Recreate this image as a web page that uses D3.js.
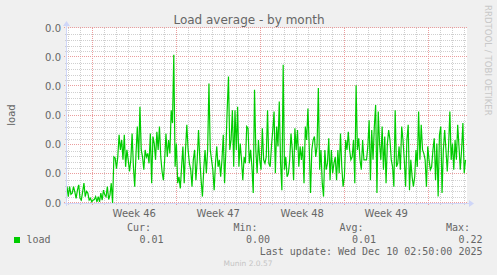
<!DOCTYPE html>
<html>
<head>
<meta charset="utf-8">
<script src="https://cdn.jsdelivr.net/npm/d3@7"></script>
<style>
  body { margin: 0; background: #f0f0f0; }
  text { font-family: "DejaVu Sans", sans-serif; fill: #666; }
  .mono { font-family: "DejaVu Sans Mono", monospace; }
</style>
</head>
<body>
<svg width="497" height="275"></svg>
<script>
// chart data
const title = "Load average - by month";
const yTitle = "load";
const weekLabels = ["Week 46", "Week 47", "Week 48", "Week 49"];
const legendHeads = ["Cur:", "Min:", "Avg:", "Max:"];
const legendValues = ["0.01", "0.00", "0.01", "0.22"];
const seriesName = "load";
const lastUpdate = "Last update: Wed Dec 10 02:50:00 2025";
const version = "Munin 2.0.57";
const watermark = "RRDTOOL / TOBI OETIKER";

// window of the graph and first / last sample times (UTC)
const graphStart = new Date(Date.UTC(2025, 10, 7, 21, 30));
const graphEnd = new Date(Date.UTC(2025, 11, 11, 5, 30));
const firstSample = new Date(Date.UTC(2025, 10, 7, 21, 30));
const lastSample = new Date(Date.UTC(2025, 11, 11, 2, 30));

// load average samples
const load = [
  0.0028,0.0011,0.0028,0.0015,0.0017,0.0028,0.0019,0.0008,0.0022,0.0031,0.0008,0.0005,
  0.0019,0.0034,0.0011,0.0020,0.0017,0.0005,0.0008,0.0002,0.0005,0.0006,0.0011,0.0002,
  0.0011,0.0002,0.0017,0.0005,0.0022,0.0014,0.0011,0.0028,0.0006,0.0014,0.0034,0.0000,
  0.0079,0.0077,0.0059,0.0079,0.0117,0.0091,0.0108,0.0074,0.0117,0.0062,0.0091,0.0074,
  0.0054,0.0074,0.0119,0.0062,0.0028,0.0085,0.0131,0.0074,0.0165,0.0091,0.0079,0.0057,
  0.0091,0.0079,0.0085,0.0068,0.0119,0.0034,0.0114,0.0102,0.0074,0.0122,0.0091,0.0131,
  0.0079,0.0054,0.0039,0.0074,
  0.0119,0.0079,0.0108,0.0085,0.0159,0.0137,0.0254,0.0062,0.0102,0.0034,0.0045,0.0025,
  0.0062,0.0097,0.0034,0.0091,0.0134,0.0091,0.0068,0.0057,0.0028,0.0074,0.0091,0.0039,
  0.0074,0.0125,0.0074,0.0039,0.0011,0.0057,0.0091,0.0051,0.0091,0.0205,0.0091,0.0074,
  0.0057,0.0022,0.0068,0.0097,0.0062,0.0074,0.0045,0.0074,0.0117,0.0034,0.0091,0.0159,
  0.0217,0.0091,0.0108,0.0159,0.0062,0.0159,0.0091,0.0165,0.0062,0.0102,0.0074,0.0039,
  0.0079,0.0068,0.0131,0.0128,0.0068,0.0091,0.0062,0.0017,0.0194,0.0091,0.0051,0.0108,
  0.0074,0.0057,0.0128,0.0074,0.0068,
  0.0079,0.0159,0.0068,0.0062,0.0097,0.0125,0.0157,0.0051,0.0131,0.0097,0.0174,0.0068,
  0.0022,0.0237,0.0057,0.0079,0.0045,0.0051,0.0074,0.0119,0.0091,0.0039,0.0128,0.0091,
  0.0125,0.0062,0.0097,0.0074,0.0097,0.0034,0.0131,0.0108,0.0162,0.0097,0.0017,0.0091,
  0.0108,0.0114,0.0079,0.0097,0.0197,0.0057,0.0091,0.0034,0.0011,0.0091,0.0057,0.0068,
  0.0111,0.0039,0.0091,0.0051,0.0068,0.0079,0.0039,0.0091,0.0051,0.0119,0.0062,0.0028,
  0.0045,0.0108,0.0091,0.0122,0.0091,0.0074,0.0079,0.0108,0.0034,0.0202,0.0091,0.0111,
  0.0074,0.0057,0.0108,0.0074,
  0.0074,0.0074,0.0097,0.0142,0.0039,0.0125,0.0074,0.0131,0.0168,0.0017,0.0157,0.0102,
  0.0074,0.0131,0.0057,0.0114,0.0034,0.0102,0.0125,0.0108,0.0074,0.0062,0.0028,0.0159,
  0.0062,0.0068,0.0097,0.0057,0.0131,0.0108,0.0074,0.0028,0.0108,0.0134,0.0022,0.0074,
  0.0045,0.0028,0.0045,0.0091,0.0062,0.0157,0.0074,0.0134,0.0091,0.0085,0.0074,0.0028,
  0.0097,0.0074,0.0057,0.0062,0.0091,0.0111,0.0039,0.0102,0.0011,0.0117,0.0131,0.0017,
  0.0091,0.0125,0.0091,0.0054,0.0097,0.0157,0.0074,0.0102,0.0057,0.0108,0.0074,0.0134,
  0.0097,0.0057,0.0091,0.0137,0.0051,0.0074
];

const svg = d3.select("svg");
const pLeft = 67, pRight = 467, pTop = 28, pBottom = 203;

const step = (lastSample - firstSample) / (load.length - 1);
const data = load.map((v, i) => ({ t: new Date(+firstSample + i * step), v: v }));

const x = d3.scaleUtc().domain([graphStart, graphEnd]).range([pLeft, pRight]);
const y = d3.scaleLinear().domain([0, 0.03]).range([pBottom, pTop]);

const px = v => Math.round(v) + 0.5;

// plot canvas
svg.append("rect")
  .attr("x", pLeft).attr("y", pTop)
  .attr("width", pRight - pLeft).attr("height", pBottom - pTop)
  .attr("fill", "#fff");

const grid = svg.append("g").attr("shape-rendering", "crispEdges");

// minor grid
const days = d3.utcDay.range(graphStart, graphEnd);
const mondays = d3.utcMonday.range(graphStart, graphEnd);
grid.selectAll(".vmin")
  .data(days.filter(d => d.getUTCDay() !== 1))
  .enter().append("line")
  .attr("x1", d => px(x(d))).attr("x2", d => px(x(d)))
  .attr("y1", pTop).attr("y2", pBottom + 2)
  .attr("stroke", "#cfcfcf").attr("stroke-dasharray", "1,1");

grid.selectAll(".hmin")
  .data(y.ticks(30).filter((d, i) => i % 5 !== 0))
  .enter().append("line")
  .attr("x1", pLeft - 2).attr("x2", pRight)
  .attr("y1", d => px(y(d))).attr("y2", d => px(y(d)))
  .attr("stroke", "#cfcfcf").attr("stroke-dasharray", "1,1");

// major grid
grid.selectAll(".vmaj")
  .data(mondays)
  .enter().append("line")
  .attr("x1", d => px(x(d))).attr("x2", d => px(x(d)))
  .attr("y1", pTop).attr("y2", pBottom + 3)
  .attr("stroke", "#eb9d9d").attr("stroke-dasharray", "1,1");

grid.selectAll(".hmaj")
  .data(y.ticks(6))
  .enter().append("line")
  .attr("x1", pLeft - 3).attr("x2", pRight)
  .attr("y1", d => px(y(d)) - 1).attr("y2", d => px(y(d)) - 1)
  .attr("stroke", "#eb9d9d").attr("stroke-dasharray", "1,1");

// y tick labels
svg.append("g").selectAll("text")
  .data(y.ticks(6))
  .enter().append("text")
  .attr("x", 61).attr("y", d => y(d) + 3.5)
  .attr("text-anchor", "end")
  .style("font-size", "10px")
  .text(d3.format(".1f"));

// week labels, centred in each week
svg.append("g").selectAll("text")
  .data(mondays.slice(0, weekLabels.length))
  .enter().append("text")
  .attr("x", d => x(d3.utcHour.offset(d, 84)))
  .attr("y", 216.5)
  .attr("text-anchor", "middle")
  .style("font-size", "10px")
  .text((d, i) => weekLabels[i]);

// series line
svg.append("path")
  .datum(data)
  .attr("fill", "none")
  .attr("stroke", "#00cc00")
  .attr("stroke-width", 1.2)
  .attr("d", d3.line().x(d => x(d.t)).y(d => y(d.v)));

// axes with arrows
const axisCol = "#cfd6f8";
svg.append("line")
  .attr("x1", pLeft - 3).attr("x2", pRight + 3)
  .attr("y1", pBottom + 0.5).attr("y2", pBottom + 0.5)
  .attr("stroke", axisCol);
svg.append("line")
  .attr("x1", pLeft - 0.5).attr("x2", pLeft - 0.5)
  .attr("y1", pBottom + 3).attr("y2", pTop - 3)
  .attr("stroke", axisCol);
svg.append("path")
  .attr("d", `M${pRight + 2},${pBottom - 3} L${pRight + 7},${pBottom + 0.5} L${pRight + 2},${pBottom + 4} Z`)
  .attr("fill", axisCol);
svg.append("path")
  .attr("d", `M${pLeft - 4},${pTop - 2} L${pLeft - 0.5},${pTop - 7} L${pLeft + 3},${pTop - 2} Z`)
  .attr("fill", axisCol);

// title and axis title
svg.append("text")
  .attr("x", 249).attr("y", 23.5)
  .attr("text-anchor", "middle")
  .style("font-size", "12px")
  .text(title);

svg.append("text")
  .attr("transform", "translate(14.5,115) rotate(-90)")
  .attr("text-anchor", "middle")
  .style("font-size", "10px")
  .text(yTitle);

svg.append("text")
  .attr("transform", "translate(484.5,5) rotate(90)")
  .style("font-size", "8.6px")
  .style("fill", "#c8c8c8")
  .text(watermark);

// legend
const legX = [151, 257.5, 363.5, 470];
svg.append("g").selectAll("text")
  .data(legendHeads)
  .enter().append("text")
  .attr("class", "mono")
  .attr("x", (d, i) => legX[i]).attr("y", 231.3)
  .attr("text-anchor", "end")
  .style("font-size", "10px")
  .text(d => d);

svg.append("g").selectAll("text")
  .data(legendValues)
  .enter().append("text")
  .attr("class", "mono")
  .attr("x", (d, i) => legX[i] + 12.5).attr("y", 243.3)
  .attr("text-anchor", "end")
  .style("font-size", "10px")
  .text(d => d);

svg.append("rect")
  .attr("x", 14).attr("y", 237)
  .attr("width", 6).attr("height", 6)
  .attr("fill", "#00cc00");

svg.append("text")
  .attr("class", "mono")
  .attr("x", 26.5).attr("y", 243.3)
  .style("font-size", "10px")
  .text(seriesName);

svg.append("text")
  .attr("class", "mono")
  .attr("x", 482.5).attr("y", 255.3)
  .attr("text-anchor", "end")
  .style("font-size", "10px")
  .text(lastUpdate);

svg.append("text")
  .attr("x", 248).attr("y", 266)
  .attr("text-anchor", "middle")
  .style("font-size", "7.5px")
  .style("fill", "#c4c4c4")
  .text(version);
</script>
</body>
</html>
